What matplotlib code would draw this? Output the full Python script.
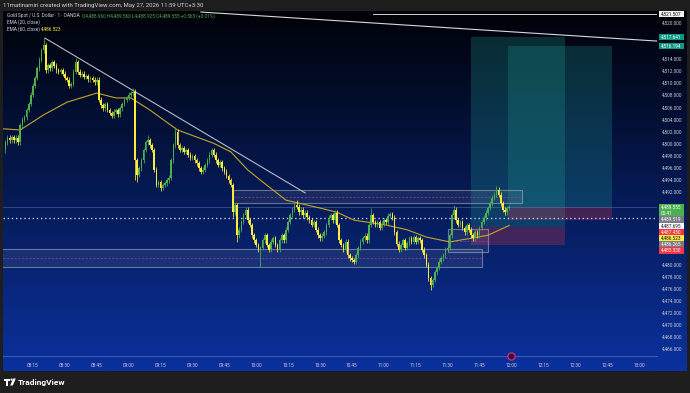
import matplotlib
matplotlib.use("Agg")
import matplotlib.pyplot as plt
import numpy as np
from matplotlib.patches import Rectangle, Polygon, Circle

plt.rcParams['font.family'] = ['Roboto', 'DejaVu Sans']


def hm(s):
    parts = [float(p) for p in s.split(':')]
    return parts[0] * 60 + parts[1] + (parts[2] / 60 if len(parts) > 2 else 0)


# ---------------- data ----------------
first_time = "08:02"
first_open = 4499.0
closes = [
    4500.3, 4501.0, 4500.6, 4501.1, 4500.6, 4501.0, 4500.3, 4503.1, 4504.0, 4504.4,
    4505.6, 4506.6, 4508.1, 4509.6, 4510.9, 4512.5, 4513.9, 4515.5, 4516.3, 4512.2,
    4513.0, 4512.5, 4513.5, 4512.9, 4512.2, 4511.9, 4512.2, 4511.6, 4510.9, 4510.6,
    4509.6, 4509.9, 4511.9, 4513.5, 4511.9, 4511.4, 4511.6, 4511.1, 4511.2, 4510.7,
    4510.9, 4510.6, 4510.2, 4510.6, 4507.3, 4506.4, 4505.9, 4506.6, 4505.6, 4505.1,
    4504.6, 4505.3, 4505.6, 4504.9, 4505.9, 4506.6, 4507.3, 4507.6, 4508.1, 4508.4,
    4508.6, 4497.3, 4494.9, 4496.0, 4497.3, 4499.0, 4500.3, 4500.6, 4499.8, 4499.0,
    4495.7, 4493.2, 4493.7, 4492.7, 4493.2, 4493.5, 4494.0, 4494.4, 4497.3, 4499.8,
    4502.0, 4499.8, 4499.0, 4499.3, 4498.7, 4499.0, 4498.2, 4497.7, 4498.0, 4497.3,
    4496.8, 4496.0, 4495.4, 4495.7, 4496.5, 4497.3, 4498.2, 4499.0, 4498.2, 4497.3,
    4496.5, 4497.0, 4496.0, 4495.4, 4494.7, 4494.0, 4493.2, 4488.7, 4489.9, 4484.9,
    4485.8, 4487.1, 4488.2, 4489.1, 4487.4, 4486.6, 4484.9, 4484.1, 4483.3, 4482.5,
    4482.8, 4484.1, 4484.9, 4483.3, 4482.5, 4483.8, 4484.4, 4483.3, 4482.5, 4484.1,
    4484.9, 4484.1, 4485.8, 4487.1, 4488.2, 4489.1, 4489.9, 4489.6, 4488.7, 4489.1,
    4488.2, 4488.6, 4487.9, 4487.4, 4486.6, 4487.1, 4485.8, 4484.9, 4484.4, 4484.8,
    4485.4, 4486.6, 4487.8, 4488.2, 4487.4, 4488.6, 4486.6, 4484.1, 4483.3, 4482.5,
    4483.8, 4481.6, 4481.1, 4480.8, 4480.5, 4481.6, 4482.8, 4483.8, 4484.4, 4484.8,
    4484.1, 4486.6, 4488.2, 4487.1, 4486.6, 4487.1, 4486.1, 4486.8, 4487.4, 4487.1,
    4488.1, 4488.4, 4487.8, 4485.4, 4483.5, 4482.5, 4483.3, 4484.1, 4482.8, 4483.6,
    4484.4, 4483.8, 4484.6, 4483.8, 4484.4, 4484.1, 4482.5, 4481.6, 4480.0, 4477.8,
    4476.7, 4477.5, 4478.8, 4479.5, 4480.5, 4481.1, 4481.6, 4482.5, 4482.8, 4484.9,
    4488.2, 4489.1, 4487.4, 4486.6, 4487.1, 4486.1, 4485.4, 4486.6, 4485.8, 4484.9,
    4484.4, 4485.4, 4484.9, 4486.1, 4487.1, 4487.8, 4488.6, 4489.4, 4490.2, 4491.1,
    4491.6, 4492.4, 4491.6, 4490.2, 4489.1, 4488.7, 4489.4, 4489.555,
]
wick_default = 0.4
high_marks = {18: 4517.5, 33: 4514.2, 60: 4509.2, 67: 4501.5, 80: 4502.8,
              137: 4490.7, 172: 4489.4, 211: 4489.9, 231: 4493.0}
low_marks = {0: 4498.5, 61: 4494.0, 62: 4493.7, 73: 4492.2, 107: 4487.9,
             109: 4483.8, 120: 4479.7, 200: 4475.9}

ema60_times = ["08:01", "08:09", "08:20", "08:31", "08:45", "08:54", "09:01", "09:10",
               "09:23", "09:40", "09:48", "09:56", "10:02", "10:14", "10:30", "10:38",
               "10:46", "11:01", "11:11", "11:20", "11:31", "11:41", "11:49", "11:59"]
ema60_values = [4502.5, 4502.3, 4504.8, 4506.9, 4508.4, 4507.6, 4507.6, 4505.6,
                4502.3, 4500.1, 4498.7, 4495.7, 4494.0, 4490.7, 4489.4, 4488.7,
                4487.4, 4486.6, 4485.8, 4484.6, 4483.8, 4484.4, 4484.9, 4486.523]

trend_times = ["08:20:36", "10:23:00"]
trend_prices = [4517.5, 4491.9]

top_line_times = ["09:34", "13:08:30"]
top_line_prices = [4521.8, 4517.0]
top_level = 4521.507
top_level_start = "10:55"

dotted_level = 4487.695

zones = [  # (start, end, low, high)
    ("09:49", "12:05", 4490.2, 4492.4),
    ("07:50", "11:46", 4479.7, 4482.7),
    ("11:30", "11:49", 4482.1, 4485.9),
]

positions = [  # (start, end, entry, stop, target)
    ("11:41", "12:25", 4486.265, 4483.330, 4517.641),
    ("11:58:24", "12:47:18", 4489.519, 4487.450, 4516.194),
]

time_ticks = ["08:15", "08:30", "08:45", "09:00", "09:15", "09:30", "09:45", "10:00",
              "10:15", "10:30", "10:45", "11:00", "11:15", "11:30", "11:45", "12:00",
              "12:15", "12:30", "12:45", "13:00"]
price_ticks = list(range(4466, 4521, 2))
event_time = "12:00"
countdown = "00:41"

header_text = "11matinamiri created with TradingView.com, May 27, 2026 11:59 UTC+3:30"
symbol_text = "Gold Spot / U.S. Dollar \u00b7 1 \u00b7 OANDA"
ohlc_text = "O4,488.960 H4,489.560 L4,488.925 C4,489.555 +0.565 (+0.01%)"

# ---------------- figure ----------------
W, H = 690, 393
fig = plt.figure(figsize=(W / 100, H / 100), dpi=100, facecolor='#1e1e1e')

ax_bg = fig.add_axes([3 / W, 22 / H, 684 / W, 360 / H])
ax_bg.set_axis_off()
top_c = np.array([0, 2, 8]) / 255
bot_c = np.array([11, 49, 158]) / 255
g = np.linspace(0, 1, 360)[:, None, None]
grad = top_c * (1 - g) + bot_c * g
ax_bg.imshow(grad, aspect='auto', extent=[0, 1, 0, 1], interpolation='bilinear')

xmin, xmax = 480.9, 788.5
ymin, ymax = 4464.94, 4521.97
ax = fig.add_axes([3 / W, 37 / H, 654 / W, 345 / H])
ax.set_facecolor('none')
ax.set_xlim(xmin, xmax)
ax.set_ylim(ymin, ymax)
for s in ['top', 'left', 'right']:
    ax.spines[s].set_visible(False)
ax.spines['bottom'].set_color('#3d5cb8')
ax.spines['bottom'].set_linewidth(0.7)

for st, en, lo, hi in zones:
    x0, x1 = hm(st), hm(en)
    ax.add_patch(Rectangle((x0, lo), x1 - x0, hi - lo, facecolor=(0.58, 0.6, 0.65, 0.13),
                           edgecolor=(0.7, 0.71, 0.75, 0.55), lw=0.8, zorder=2))
    ax.plot([x0, x1], [(lo + hi) / 2] * 2, color='#a030b0', lw=0.6, ls=(0, (2.5, 2)),
            zorder=2, alpha=0.9)

for st, en, entry, stop, target in positions:
    x0, x1 = hm(st), hm(en)
    ax.add_patch(Rectangle((x0, entry), x1 - x0, target - entry, facecolor='#1f9e93',
                           alpha=0.26, lw=0, zorder=1.5))
    ax.add_patch(Rectangle((x0, stop), x1 - x0, entry - stop, facecolor='#f23645',
                           alpha=0.26, lw=0, zorder=1.5))

last_close = closes[-1]
ax.axhline(last_close, color='#6f86c0', lw=0.5, alpha=0.6, zorder=1.6)
ax.axhline(dotted_level, color='#c8cbe8', lw=1.0, ls=(0, (1, 2)), zorder=1.7)

ax.plot([hm(t) for t in top_line_times], top_line_prices, color='#d8d8d8', lw=0.8, zorder=3)
ax.plot([hm(top_level_start), xmax + 5], [top_level, top_level], color='#f0f0f0',
        lw=0.6, zorder=3)

ax.plot([hm(t) for t in trend_times], trend_prices, color='#b7bac4', lw=0.8, zorder=3)

t0 = hm(first_time)
up_col, dn_col = '#4caf50', '#ffeb3b'
for i, c in enumerate(closes):
    o = closes[i - 1] if i > 0 else first_open
    hi = high_marks.get(i, max(o, c) + wick_default)
    lo = low_marks.get(i, min(o, c) - wick_default)
    col = up_col if c >= o else dn_col
    x = t0 + i
    ax.plot([x, x], [lo, hi], color=col, lw=0.55, zorder=4, solid_capstyle='butt')
    body = max(abs(c - o), 0.15)
    ax.add_patch(Rectangle((x - 0.37, min(o, c)), 0.74, body, facecolor=col, lw=0, zorder=4))

ax.plot([hm(t) for t in ema60_times], ema60_values, color='#c2a62c', lw=0.8, zorder=3.5)

ax.plot([hm(event_time)], [ymin], marker='o', ms=5.2, mfc='#3b0d30', mec='#e0308a', mew=0.8,
        zorder=6, clip_on=False)

ax.set_xticks([hm(t) for t in time_ticks])
ax.set_xticklabels(time_ticks)
ax.tick_params(axis='x', length=0, pad=5.2, labelsize=3.4, colors='#c8cad2')
ax.set_yticks([])

# ---------------- price axis ----------------
ax_lab = fig.add_axes([657 / W, 37 / H, 30 / W, 345 / H])
ax_lab.set_axis_off()
ax_lab.set_xlim(0, 1)
ax_lab.set_ylim(ymin, ymax)
hline = 6.2 / 6.05
occupied = []


def draw_labels(items):
    prev_bottom = 1e9
    for price, text, bg, fg in items:
        n = text.count('\n') + 1
        top = min(price + hline / 2, prev_bottom)
        bottom = top - n * hline
        ax_lab.add_patch(Rectangle((0.067, bottom), 0.83, top - bottom, facecolor=bg,
                                   lw=0, zorder=5))
        for k, line in enumerate(text.split('\n')):
            ax_lab.text(0.13, top - (k + 0.5) * hline, line, fontsize=3.4, color=fg,
                        va='center', ha='left', zorder=6)
        occupied.append((bottom, top))
        prev_bottom = bottom


draw_labels([(top_level, f"{top_level:,.3f}", '#f0f0f0', '#131722')])
draw_labels([(positions[0][4], f"{positions[0][4]:,.3f}", '#089981', '#ffffff')])
draw_labels([(positions[1][4], f"{positions[1][4]:,.3f}", '#089981', '#ffffff')])
draw_labels([
    (last_close, f"{last_close:,.3f}\n{countdown}", '#4caf50', '#ffffff'),
    (positions[1][2], f"{positions[1][2]:,.3f}", '#787b86', '#ffffff'),
    (dotted_level, f"{dotted_level:,.3f}", '#ffffff', '#131722'),
    (positions[1][3], f"{positions[1][3]:,.3f}", '#f23645', '#ffffff'),
    (ema60_values[-1], f"{ema60_values[-1]:,.3f}", '#ffeb3b', '#131722'),
    (positions[0][2], f"{positions[0][2]:,.3f}", '#787b86', '#ffffff'),
    (positions[0][3], f"{positions[0][3]:,.3f}", '#f23645', '#ffffff'),
])

for v in price_ticks:
    if any(b - 0.45 * hline < v < t + 0.45 * hline for b, t in occupied):
        continue
    ax_lab.text(0.167, v, f"{v:,.3f}", fontsize=3.4, color='#c8cad2', va='center',
                ha='left', zorder=4)

# ---------------- text / decorations ----------------
ov = fig.add_axes([0, 0, 1, 1])
ov.set_axis_off()
ov.set_xlim(0, W)
ov.set_ylim(H, 0)
ov.text(3, 5.5, header_text, fontsize=4.3, color='#d1d4dc', va='center', ha='left')
ov.text(7, 15.8, symbol_text, fontsize=3.4, color='#d1d4dc', va='center', ha='left')
ov.text(82, 15.8, ohlc_text, fontsize=3.4, color='#4caf50', va='center', ha='left')
ov.text(7, 22.5, "EMA (20, close)", fontsize=3.4, color='#d1d4dc', va='center', ha='left')
ov.text(7, 29.2, "EMA (60, close)", fontsize=3.4, color='#d1d4dc', va='center', ha='left')
ov.text(41, 29.2, f"{ema60_values[-1]:,.3f}", fontsize=3.4, color='#ffeb3b', va='center',
        ha='left')

ov.add_patch(Polygon([[4, 378.5], [10, 378.5], [10, 380.5], [8.2, 380.5], [8.2, 385.5],
                      [6, 385.5], [6, 380.5], [4, 380.5]], closed=True, facecolor='white',
                     lw=0))
ov.add_patch(Circle((11.5, 379.6), 1.1, facecolor='white', lw=0))
ov.add_patch(Polygon([[13.2, 378.5], [15.8, 378.5], [12.8, 385.5], [10.2, 385.5]],
                     closed=True, facecolor='white', lw=0))
ov.text(18, 382, "TradingView", fontsize=6.0, color='white', va='center', ha='left',
        fontweight='semibold')

fig.savefig('out.png', dpi=100, facecolor=fig.get_facecolor())
